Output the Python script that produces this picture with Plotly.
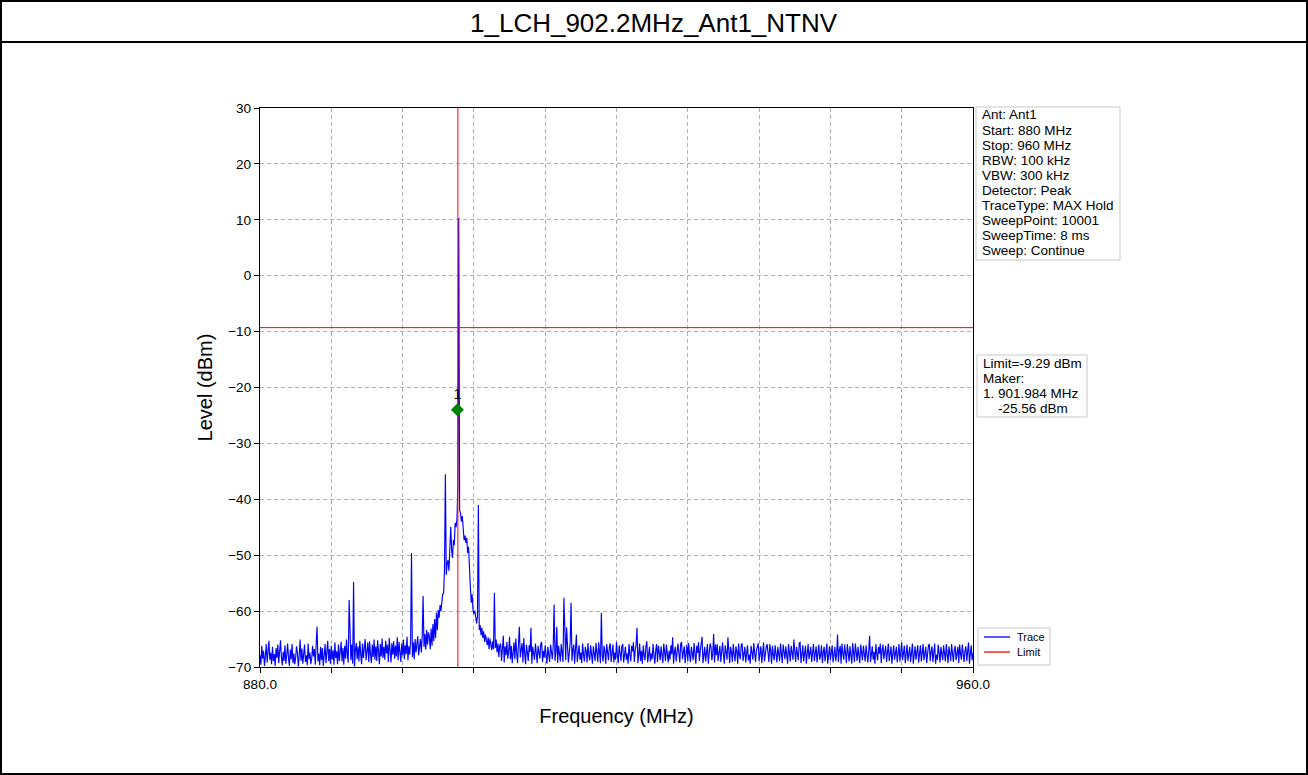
import numpy as np
import plotly.graph_objects as go

# ---------------- data ----------------
START_MHZ = 880.0
STOP_MHZ = 960.0
LIMIT_DBM = -9.29
CHANNEL_MHZ = 902.2
MARKER_FREQ = 902.15
MARKER_LEVEL = -24.0
X_TICK_VALUES = [880, 888, 896, 904, 912, 920, 928, 936, 944, 952, 960]
X_TICK_LABELS = ["880.0", "", "", "", "", "", "", "", "", "", "960.0"]
Y_TICK_VALUES = [-70, -60, -50, -40, -30, -20, -10, 0, 10, 20, 30]

# trace levels (dBm), one value every 0.1 MHz from 880.0 to 960.0, one row per MHz
levels = [
    -67.9, -69.6, -66.2, -68.5, -67.1, -69.8, -68.0, -65.9, -69.2, -67.5,  # 880
    -65.3, -68.7, -67.4, -69.5, -66.4, -68.9, -67.7, -69.8, -66.6, -68.4,  # 881
    -66.0, -69.3, -67.6, -65.2, -68.2, -69.7, -67.3, -68.9, -66.1, -69.4,  # 882
    -67.8, -65.8, -68.5, -69.8, -66.9, -68.6, -65.9, -69.3, -67.6, -69.5,  # 883
    -68.3, -66.3, -67.5, -69.9, -68.0, -65.1, -68.9, -66.7, -69.4, -67.7,  # 884
    -66.0, -69.1, -67.9, -69.7, -65.8, -68.6, -67.4, -69.5, -68.5, -66.2,  # 885
    -68.1, -66.8, -69.6, -65.9, -62.8, -69.0, -67.6, -69.7, -66.4, -68.8,  # 886
    -66.6, -69.8, -68.2, -65.9, -69.3, -67.7, -65.3, -68.9, -66.8, -69.4,  # 887
    -66.2, -68.7, -67.0, -69.6, -65.6, -68.4, -67.2, -69.5, -66.0, -68.9,  # 888
    -67.4, -65.5, -69.0, -66.6, -69.6, -66.2, -68.5, -65.1, -67.9, -69.2,  # 889
    -58.0, -67.3, -68.8, -66.0, -69.4, -54.8, -69.9, -67.0, -65.7, -68.6,  # 890
    -66.3, -69.0, -65.3, -67.7, -69.5, -65.8, -68.4, -66.7, -65.0, -68.8,  # 891
    -67.2, -65.6, -69.1, -65.4, -67.8, -69.3, -66.0, -68.2, -65.1, -68.7,  # 892
    -66.3, -68.9, -65.2, -67.6, -69.5, -65.9, -68.1, -64.9, -68.4, -66.4,  # 893
    -68.7, -65.3, -67.6, -66.0, -69.1, -64.8, -67.9, -69.2, -65.7, -67.8,  # 894
    -65.4, -68.5, -66.2, -68.1, -64.7, -68.8, -65.5, -67.9, -69.1, -65.8,  # 895
    -67.9, -65.1, -68.6, -66.1, -67.7, -64.6, -68.8, -66.3, -67.8, -65.2,  # 896
    -49.6, -68.2, -65.6, -68.6, -65.0, -67.4, -65.9, -64.5, -67.9, -65.7,  # 897
    -65.0, -67.4, -64.4, -57.3, -66.4, -64.1, -66.9, -63.4, -66.0, -63.8,  # 898
    -64.6, -66.8, -63.1, -66.2, -62.3, -65.4, -61.4, -64.8, -60.3, -63.4,  # 899
    -59.8, -61.2, -58.9, -60.0, -58.5, -57.0, -56.8, -52.6, -35.5, -53.5,  # 900
    -51.5, -50.9, -52.8, -48.0, -44.9, -49.0, -50.5, -47.3, -48.2, -44.2,  # 901
    -45.0, -43.5, -38.0, 10.3, -42.0, -42.5, -44.0, -43.0, -45.5, -47.3,  # 902
    -46.5, -47.8, -46.9, -49.6, -48.5, -51.0, -55.6, -58.5, -57.0, -59.8,  # 903
    -60.5, -59.9, -61.5, -62.2, -61.0, -41.0, -63.4, -62.5, -64.3, -63.0,  # 904
    -64.8, -63.6, -65.5, -64.2, -65.2, -66.1, -64.7, -66.8, -64.9, -66.3,  # 905
    -67.0, -65.4, -66.8, -56.7, -66.6, -65.1, -67.4, -65.8, -68.2, -66.2,  # 906
    -65.8, -68.9, -67.1, -64.4, -69.2, -66.3, -67.9, -65.5, -68.5, -67.2,  # 907
    -64.6, -68.6, -66.2, -69.3, -67.4, -65.6, -68.6, -64.9, -67.5, -69.3,  # 908
    -65.9, -62.8, -68.3, -67.0, -65.7, -69.2, -64.8, -67.6, -69.5, -66.0,  # 909
    -67.8, -68.9, -66.1, -67.3, -63.0, -69.4, -66.4, -67.7, -68.7, -65.8,  # 910
    -67.5, -69.3, -66.2, -67.9, -68.5, -65.9, -65.5, -69.1, -67.1, -68.3,  # 911
    -66.1, -67.8, -69.4, -66.4, -67.4, -69.1, -66.0, -67.9, -68.6, -66.3,  # 912
    -58.8, -68.9, -67.3, -62.8, -69.3, -66.2, -67.6, -69.0, -65.9, -67.9,  # 913
    -69.1, -57.6, -67.2, -68.8, -62.9, -66.4, -69.2, -67.5, -65.7, -58.5,  # 914
    -68.9, -67.0, -66.0, -69.4, -67.3, -64.2, -69.1, -67.1, -66.1, -68.7,  # 915
    -67.4, -69.3, -65.8, -67.8, -69.0, -66.4, -67.2, -69.2, -65.7, -67.9,  # 916
    -68.8, -66.1, -67.7, -69.4, -66.3, -67.5, -68.9, -65.7, -67.6, -69.1,  # 917
    -65.6, -67.3, -69.3, -60.3, -67.9, -69.0, -66.2, -67.2, -69.4, -65.9,  # 918
    -67.8, -68.8, -66.4, -65.8, -69.1, -67.1, -66.0, -69.2, -67.4, -68.7,  # 919
    -65.5, -67.9, -69.3, -66.1, -67.3, -68.9, -66.3, -65.9, -69.2, -67.5,  # 920
    -66.4, -68.7, -67.6, -69.4, -65.9, -67.7, -69.0, -66.2, -67.2, -65.6,  # 921
    -69.1, -67.0, -66.0, -63.0, -69.3, -67.8, -65.8, -68.9, -67.1, -69.4,  # 922
    -66.1, -67.9, -68.8, -66.3, -65.4, -69.2, -67.3, -66.4, -69.0, -67.6,  # 923
    -68.6, -65.9, -67.8, -69.4, -67.0, -65.9, -69.1, -66.2, -67.5, -68.8,  # 924
    -66.3, -67.6, -69.3, -65.8, -67.2, -68.9, -66.0, -67.9, -69.2, -67.1,  # 925
    -68.7, -66.1, -67.7, -64.7, -69.4, -67.3, -66.4, -69.0, -67.8, -65.8,  # 926
    -67.5, -69.2, -65.9, -65.5, -68.6, -67.6, -66.3, -69.3, -67.2, -66.0,  # 927
    -68.9, -65.7, -67.9, -69.1, -66.4, -67.4, -68.8, -65.7, -67.8, -69.4,  # 928
    -66.2, -67.5, -65.6, -68.9, -67.1, -65.8, -64.6, -69.3, -67.4, -66.4,  # 929
    -69.0, -67.7, -65.9, -69.4, -67.2, -65.8, -66.3, -68.8, -67.6, -64.1,  # 930
    -69.2, -66.0, -67.9, -65.9, -68.9, -67.0, -66.2, -69.1, -67.3, -65.6,  # 931
    -67.8, -69.4, -66.1, -67.4, -68.7, -64.7, -67.5, -69.3, -66.4, -67.3,  # 932
    -69.1, -65.9, -67.7, -69.0, -66.3, -67.2, -69.4, -65.8, -67.9, -68.6,  # 933
    -66.0, -65.8, -68.9, -67.6, -66.4, -69.2, -67.1, -66.1, -68.8, -67.8,  # 934
    -69.4, -66.2, -67.4, -68.7, -65.7, -67.9, -69.1, -67.0, -66.0, -65.8,  # 935
    -68.9, -67.3, -66.3, -69.3, -67.6, -65.6, -69.0, -67.2, -66.4, -65.9,  # 936
    -67.7, -69.1, -65.9, -67.1, -69.4, -66.2, -67.8, -68.8, -66.1, -67.4,  # 937
    -69.2, -66.4, -67.5, -68.9, -65.8, -67.9, -69.3, -66.0, -67.2, -68.6,  # 938
    -66.3, -67.6, -69.4, -65.9, -67.3, -69.0, -66.2, -67.8, -68.7, -65.1,  # 939
    -67.4, -69.1, -66.4, -67.7, -68.8, -65.7, -65.6, -69.3, -67.1, -66.1,  # 940
    -69.0, -67.2, -66.2, -69.4, -67.5, -65.9, -68.6, -67.8, -66.4, -69.1,  # 941
    -67.0, -65.9, -68.9, -67.6, -66.3, -69.2, -67.3, -66.0, -68.7, -67.9,  # 942
    -66.1, -69.3, -67.4, -66.4, -69.0, -67.1, -65.8, -69.4, -67.7, -66.3,  # 943
    -68.8, -67.5, -66.1, -69.2, -67.2, -66.4, -68.9, -67.8, -64.2, -69.1,  # 944
    -67.1, -66.2, -69.4, -65.8, -67.6, -68.7, -66.0, -67.9, -69.3, -65.9,  # 945
    -67.3, -69.0, -66.3, -67.7, -69.4, -65.7, -67.4, -69.1, -65.8, -67.0,  # 946
    -68.9, -66.4, -67.6, -69.3, -66.0, -67.2, -68.8, -66.2, -67.9, -69.0,  # 947
    -66.1, -67.8, -69.2, -67.1, -64.4, -69.1, -67.5, -66.3, -68.7, -67.3,  # 948
    -69.4, -65.9, -67.7, -68.8, -66.4, -67.6, -65.8, -69.3, -67.0, -66.0,  # 949
    -68.6, -67.4, -66.2, -69.1, -67.9, -65.8, -68.9, -67.2, -66.3, -69.4,  # 950
    -67.5, -66.1, -68.7, -67.8, -66.4, -69.2, -67.3, -65.9, -69.0, -67.1,  # 951
    -65.6, -68.8, -67.0, -66.2, -69.3, -67.6, -66.0, -68.9, -67.2, -66.4,  # 952
    -69.1, -67.7, -65.8, -69.4, -67.4, -66.3, -68.7, -67.5, -66.1, -69.2,  # 953
    -67.1, -66.1, -69.0, -67.9, -65.9, -68.8, -67.7, -66.4, -69.3, -67.2,  # 954
    -66.2, -65.9, -68.9, -67.3, -66.3, -69.1, -67.5, -65.8, -69.4, -67.8,  # 955
    -68.7, -66.0, -67.6, -69.2, -66.4, -67.4, -68.8, -66.1, -67.9, -69.0,  # 956
    -65.9, -67.7, -69.3, -66.3, -67.3, -68.9, -65.9, -67.8, -69.1, -67.0,  # 957
    -66.2, -68.8, -67.5, -66.4, -69.3, -66.0, -67.6, -68.7, -66.0, -67.9,  # 958
    -69.1, -67.1, -66.3, -68.9, -67.7, -65.6, -69.4, -67.4, -66.1, -68.8,  # 959
    -67.5,                                                               # 960
]

TITLE = "1_LCH_902.2MHz_Ant1_NTNV"
SETTINGS_LINES = [
    "Ant: Ant1", "Start: 880 MHz", "Stop: 960 MHz", "RBW: 100 kHz", "VBW: 300 kHz",
    "Detector: Peak", "TraceType: MAX Hold", "SweepPoint: 10001",
    "SweepTime: 8 ms", "Sweep: Continue",
]
MARKER_LINES = ["Limit=-9.29 dBm", "Maker:", "1. 901.984 MHz",
                "\u00a0\u00a0\u00a0\u00a0-25.56 dBm"]
LEGEND_NAMES = ["Trace", "Limit"]
LEGEND_COLORS = ["#0000ff", "#ff0000"]

# ---------------- layout geometry (pixels) ----------------
W, H = 1308, 775
PL, PR, PT, PB = 260, 973, 108, 667   # plot area box


def px(x):
    return (x - PL) / (PR - PL)


def py(y):
    return (PB - y) / (PB - PT)


freqs = np.linspace(START_MHZ, STOP_MHZ, len(levels))
FONT = "Liberation Sans, Arial, Helvetica, sans-serif"

fig = go.Figure()
fig.add_trace(go.Scatter(x=freqs, y=levels, mode="lines", name=LEGEND_NAMES[0],
                         line=dict(color=LEGEND_COLORS[0], width=1.15), showlegend=False))
fig.add_trace(go.Scatter(x=[START_MHZ, STOP_MHZ], y=[LIMIT_DBM, LIMIT_DBM], mode="lines",
                         name=LEGEND_NAMES[1], line=dict(color=LEGEND_COLORS[1], width=1),
                         showlegend=False))
fig.add_trace(go.Scatter(x=[CHANNEL_MHZ, CHANNEL_MHZ], y=[-70, 30], mode="lines",
                         showlegend=False, line=dict(color="#ff0000", width=1)))
fig.add_trace(go.Scatter(x=[MARKER_FREQ], y=[MARKER_LEVEL], mode="markers+text",
                         text=["1"], textposition="top center",
                         textfont=dict(size=14, color="black", family=FONT),
                         marker=dict(symbol="diamond", size=10, color="#008000"),
                         showlegend=False))

BOX_BORDER = "#c8c8c8"
shapes = [
    # outer frame and title separator
    dict(type="rect", xref="paper", yref="paper", x0=px(1), x1=px(W - 1), y0=py(H - 1), y1=py(1),
         line=dict(color="black", width=2)),
    dict(type="line", xref="paper", yref="paper", x0=px(0), x1=px(W), y0=py(42), y1=py(42),
         line=dict(color="black", width=2)),
    # info boxes
    dict(type="rect", xref="paper", yref="paper", x0=px(976), x1=px(1120), y0=py(260), y1=py(107),
         line=dict(color=BOX_BORDER, width=1), fillcolor="white"),
    dict(type="rect", xref="paper", yref="paper", x0=px(977), x1=px(1087), y0=py(417), y1=py(355),
         line=dict(color=BOX_BORDER, width=1), fillcolor="white"),
    # legend box
    dict(type="rect", xref="paper", yref="paper", x0=px(978), x1=px(1050), y0=py(665), y1=py(628),
         line=dict(color=BOX_BORDER, width=1), fillcolor="white"),
]

annotations = [
    dict(text=TITLE, xref="paper", yref="paper", x=px(654), y=py(23), xanchor="center",
         yanchor="middle", showarrow=False, font=dict(size=26, color="black", family=FONT)),
]
for i, line in enumerate(SETTINGS_LINES):
    annotations.append(dict(text=line, xref="paper", yref="paper", x=px(980), y=py(115 + i * 15.1),
                            xanchor="left", yanchor="middle", showarrow=False,
                            font=dict(size=13.5, color="black", family=FONT)))
for i, line in enumerate(MARKER_LINES):
    annotations.append(dict(text=line, xref="paper", yref="paper", x=px(981), y=py(363 + i * 15.1),
                            xanchor="left", yanchor="middle", showarrow=False,
                            font=dict(size=13.5, color="black", family=FONT)))
for i, (name, col) in enumerate(zip(LEGEND_NAMES, LEGEND_COLORS)):
    yy = 637 + i * 15
    shapes.append(dict(type="line", xref="paper", yref="paper", x0=px(984), x1=px(1010),
                       y0=py(yy), y1=py(yy), line=dict(color=col, width=1.3)))
    annotations.append(dict(text=name, xref="paper", yref="paper", x=px(1015), y=py(yy),
                            xanchor="left", yanchor="middle", showarrow=False,
                            font=dict(size=11, color="black", family=FONT)))

axis_common = dict(showline=True, linecolor="black", linewidth=1.3, mirror=True,
                   ticks="outside", ticklen=5, tickwidth=1.3, tickcolor="black",
                   showgrid=True, gridcolor="#b0b0b0", griddash="4px,3px", gridwidth=0.8,
                   zeroline=False, tickfont=dict(size=13.5, color="black", family=FONT))

fig.update_layout(
    width=W, height=H, autosize=False,
    margin=dict(l=PL, r=W - PR, t=PT, b=H - PB, pad=0),
    paper_bgcolor="white", plot_bgcolor="white",
    font=dict(family=FONT, color="black"),
    shapes=shapes, annotations=annotations,
    xaxis=dict(range=[START_MHZ, STOP_MHZ], tickvals=X_TICK_VALUES, ticktext=X_TICK_LABELS,
               title=dict(text="Frequency (MHz)", font=dict(size=20, family=FONT), standoff=17),
               **axis_common),
    yaxis=dict(range=[-70, 30], tickvals=Y_TICK_VALUES,
               title=dict(text="Level (dBm)", font=dict(size=20, family=FONT), standoff=10),
               **axis_common),
    showlegend=False,
)

fig.write_html("out.html", config={"displayModeBar": False},
               post_script="document.body.style.margin='0px';document.body.style.overflow='hidden';")
